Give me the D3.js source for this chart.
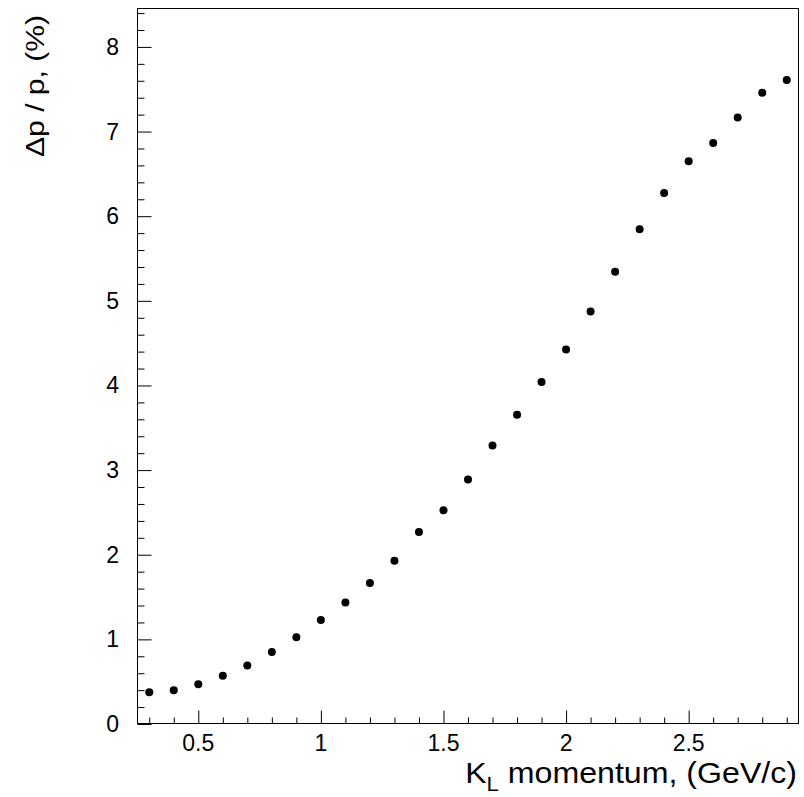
<!DOCTYPE html>
<html>
<head>
<meta charset="utf-8">
<script src="https://cdn.jsdelivr.net/npm/d3@7"></script>
<style>
  html, body { margin: 0; padding: 0; background: #fff; }
  svg { display: block; }
  text { font-family: "Liberation Sans", Arial, Helvetica, sans-serif; fill: #000; }
</style>
</head>
<body>
<svg id="chart" width="804" height="797"></svg>
<script>
// K_L momentum (GeV/c)
const momentum = [0.3, 0.4, 0.5, 0.6, 0.7, 0.8, 0.9, 1.0, 1.1, 1.2, 1.3, 1.4, 1.5, 1.6,
                  1.7, 1.8, 1.9, 2.0, 2.1, 2.2, 2.3, 2.4, 2.5, 2.6, 2.7, 2.8, 2.9];
// Momentum resolution Δp/p (%)
const resolution = [0.375, 0.40, 0.47, 0.57, 0.69, 0.85, 1.025, 1.23, 1.435, 1.665, 1.93, 2.27,
                    2.525, 2.89, 3.29, 3.655, 4.04, 4.425, 4.875, 5.345, 5.845, 6.275, 6.65,
                    6.865, 7.165, 7.46, 7.61];

const xMajorTicks = [0.5, 1, 1.5, 2, 2.5];
const xMinorTicks = [0.3, 0.4, 0.6, 0.7, 0.8, 0.9, 1.1, 1.2, 1.3, 1.4, 1.6, 1.7, 1.8, 1.9,
                     2.1, 2.2, 2.3, 2.4, 2.6, 2.7, 2.8, 2.9];
const yMajorTicks = [0, 1, 2, 3, 4, 5, 6, 7, 8];
const yMinorTicks = [0.2, 0.4, 0.6, 0.8, 1.2, 1.4, 1.6, 1.8, 2.2, 2.4, 2.6, 2.8, 3.2, 3.4, 3.6,
                     3.8, 4.2, 4.4, 4.6, 4.8, 5.2, 5.4, 5.6, 5.8, 6.2, 6.4, 6.6, 6.8, 7.2, 7.4,
                     7.6, 7.8, 8.2, 8.4];

const xTitle = "momentum, (GeV/c)";
const yTitle = "Δp / p, (%)";

const frame = { left: 137, right: 799, top: 8, bottom: 724 };
const svg = d3.select("#chart");

const x = d3.scaleLinear().domain([0.25, 2.95]).range([frame.left, frame.right]);
const y = d3.scaleLinear().domain([0, 8.46]).range([frame.bottom, frame.top]);

// Frame
svg.append("rect")
  .attr("x", frame.left + 0.5).attr("y", frame.top + 0.5)
  .attr("width", frame.right - frame.left - 1).attr("height", frame.bottom - frame.top - 1)
  .attr("fill", "none").attr("stroke", "#000").attr("stroke-width", 1);

// X axis (ticks pointing into the frame)
const xAxis = d3.axisTop(x).tickValues(xMajorTicks).tickSize(13).tickFormat("");
svg.append("g").attr("transform", `translate(0,${frame.bottom - 0.5})`).call(xAxis);
const xAxisMinor = d3.axisTop(x).tickValues(xMinorTicks).tickSize(6).tickFormat("");
svg.append("g").attr("transform", `translate(0,${frame.bottom - 0.5})`).call(xAxisMinor);

// Y axis (ticks pointing into the frame)
const yAxis = d3.axisRight(y).tickValues(yMajorTicks).tickSize(14).tickFormat("");
svg.append("g").attr("transform", `translate(${frame.left + 0.5},0)`).call(yAxis);
const yAxisMinor = d3.axisRight(y).tickValues(yMinorTicks).tickSize(7).tickFormat("");
svg.append("g").attr("transform", `translate(${frame.left + 0.5},0)`).call(yAxisMinor);

svg.selectAll(".domain").remove();
svg.selectAll(".tick line").attr("stroke", "#000").attr("stroke-width", 1);

// Tick labels
svg.append("g").selectAll("text").data(xMajorTicks).join("text")
  .attr("x", d => x(d)).attr("y", 751)
  .attr("text-anchor", "middle").attr("font-size", 23)
  .text(d => d3.format("~g")(d));

svg.append("g").selectAll("text").data(yMajorTicks).join("text")
  .attr("x", 119).attr("y", d => y(d) + 8)
  .attr("text-anchor", "end").attr("font-size", 23)
  .text(d => d3.format("~g")(d));

// Axis titles, stretched horizontally to the wide title font
function stretchTo(g, textSel, width) {
  const w = textSel.node().getBBox().width;
  textSel.attr("transform", `scale(${width / w},1)`);
}

const xg = svg.append("g").attr("transform", "translate(797,783)");
const xt = xg.append("text").attr("text-anchor", "end").attr("font-size", 29);
xt.append("tspan").text("K");
xt.append("tspan").attr("font-size", 20).attr("dy", 8).text("L");
xt.append("tspan").attr("dy", -8).text(" " + xTitle);
stretchTo(xg, xt, 332);

const yg = svg.append("g").attr("transform", "translate(44,15) rotate(-90)");
const yt = yg.append("text").attr("text-anchor", "end").attr("font-size", 26).text(yTitle);
stretchTo(yg, yt, 142);

// Data points
svg.append("g").selectAll("circle").data(momentum).join("circle")
  .attr("cx", (d) => x(d))
  .attr("cy", (d, i) => y(resolution[i]))
  .attr("r", 4)
  .attr("fill", "#000");
</script>
</body>
</html>
